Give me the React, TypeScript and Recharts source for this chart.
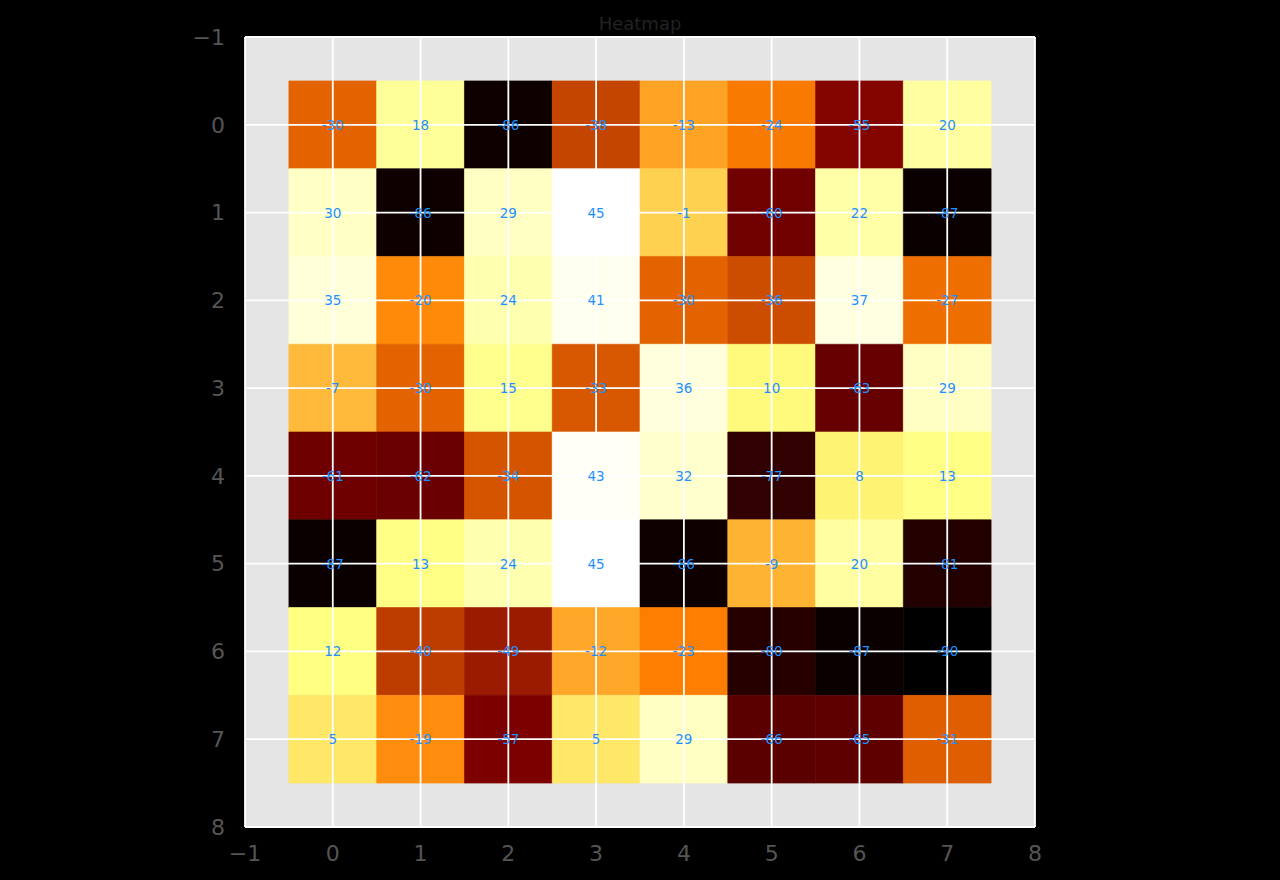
import React from "react";
import {
  ScatterChart,
  Scatter,
  XAxis,
  YAxis,
  ReferenceArea,
  ReferenceLine,
} from "recharts";

const rowLabels = [0, 1, 2, 3, 4, 5, 6, 7];
const colLabels = [0, 1, 2, 3, 4, 5, 6, 7];
const axisTicks = [-1, 0, 1, 2, 3, 4, 5, 6, 7, 8];

const row0 = [-30, 18, -86, -38, -13, -24, -55, 20];
const row1 = [30, -86, 29, 45, -1, -60, 22, -87];
const row2 = [35, -20, 24, 41, -30, -36, 37, -27];
const row3 = [-7, -30, 15, -33, 36, 10, -63, 29];
const row4 = [-61, -62, -34, 43, 32, -77, 8, 13];
const row5 = [-87, 13, 24, 45, -86, -9, 20, -81];
const row6 = [12, -40, -49, -12, -23, -80, -87, -90];
const row7 = [5, -19, -57, 5, 29, -66, -65, -31];

const rows = [row0, row1, row2, row3, row4, row5, row6, row7];

const cells = rows.flatMap((r, ri) =>
  r.map((v, ci) => ({ x: colLabels[ci], y: rowLabels[ri], v }))
);

const vmin = Math.min(...cells.map((c) => c.v));
const vmax = Math.max(...cells.map((c) => c.v));

function afmhot(v: number): string {
  const t = (v - vmin) / (vmax - vmin);
  const clip = (a: number) => Math.max(0, Math.min(1, a));
  const r = Math.round(clip(2 * t) * 255);
  const g = Math.round(clip(2 * t - 0.5) * 255);
  const b = Math.round(clip(2 * t - 1) * 255);
  return `rgb(${r},${g},${b})`;
}

const fmt = (v: number) => (v < 0 ? `\u2212${Math.abs(v)}` : `${v}`);

const LabelShape = (props: any) => {
  const { cx, cy, payload } = props;
  return (
    <text
      x={cx}
      y={cy}
      textAnchor="middle"
      dominantBaseline="central"
      fill="#1e90ff"
      fontSize={13.5}
      fontFamily="DejaVu Sans"
    >
      {String(payload.v)}
    </text>
  );
};

export default function App() {
  return (
    <div
      style={{
        position: "fixed",
        left: 0,
        top: 0,
        width: 1280,
        height: 880,
        background: "#000",
        fontFamily: "DejaVu Sans",
      }}
    >
      <div
        style={{
          position: "absolute",
          left: 0,
          width: 1280,
          top: 13,
          textAlign: "center",
          color: "#222222",
          fontSize: 18,
          fontFamily: "DejaVu Sans",
          zIndex: 2,
        }}
      >
        Heatmap
      </div>
      <ScatterChart
        width={1280}
        height={880}
        margin={{ top: 37, right: 245, bottom: 0, left: 0 }}
      >
        <XAxis
          type="number"
          dataKey="x"
          domain={[-1, 8]}
          ticks={axisTicks}
          allowDataOverflow
          height={53}
          axisLine={false}
          tickLine={false}
          tickMargin={12}
          tick={{ fill: "#555555", fontSize: 22, fontFamily: "DejaVu Sans" }}
          tickFormatter={fmt}
        />
        <YAxis
          type="number"
          dataKey="y"
          domain={[-1, 8]}
          ticks={axisTicks}
          reversed
          allowDataOverflow
          width={245}
          axisLine={false}
          tickLine={false}
          tickMargin={14}
          tick={{ fill: "#555555", fontSize: 22, fontFamily: "DejaVu Sans" }}
          tickFormatter={fmt}
        />
        <ReferenceArea
          x1={-1}
          x2={8}
          y1={-1}
          y2={8}
          fill="#e5e5e5"
          fillOpacity={1}
          stroke="none"
        />
        {cells.map((c, i) => (
          <ReferenceArea
            key={`c${i}`}
            x1={c.x - 0.5}
            x2={c.x + 0.5}
            y1={c.y - 0.5}
            y2={c.y + 0.5}
            fill={afmhot(c.v)}
            fillOpacity={1}
            stroke={afmhot(c.v)}
            strokeWidth={0.6}
          />
        ))}
        {axisTicks.map((t) => (
          <ReferenceLine
            key={`vx${t}`}
            x={t}
            stroke="#ffffff"
            strokeWidth={1.8}
          />
        ))}
        {axisTicks.map((t) => (
          <ReferenceLine
            key={`hy${t}`}
            y={t}
            stroke="#ffffff"
            strokeWidth={1.8}
          />
        ))}
        <Scatter data={cells} shape={LabelShape} isAnimationActive={false} />
      </ScatterChart>
    </div>
  );
}
